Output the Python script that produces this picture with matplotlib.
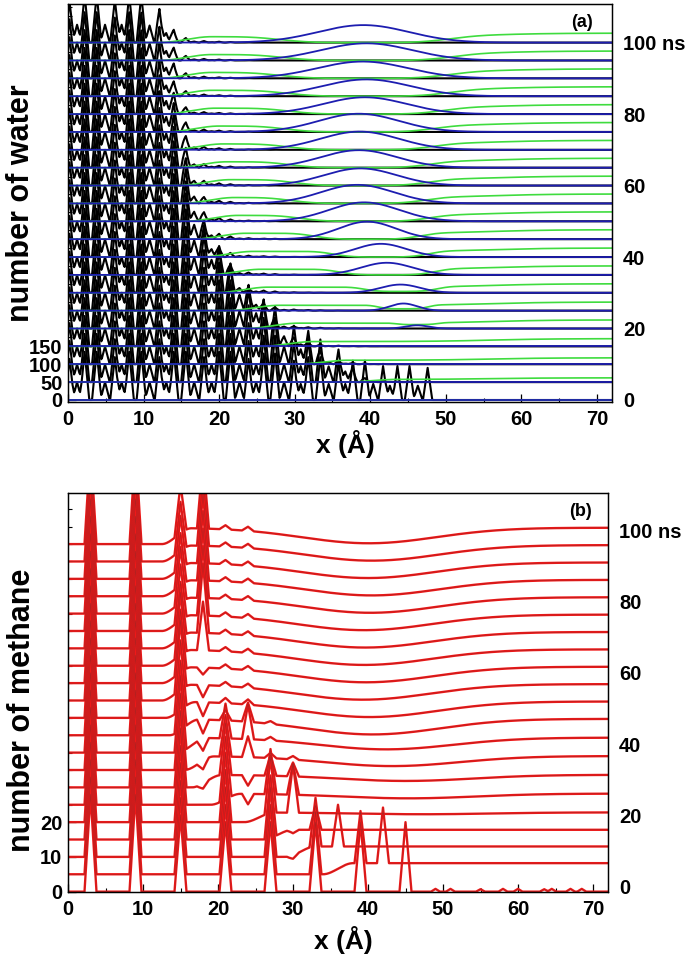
import numpy as np
import matplotlib.pyplot as plt

plt.rcParams['font.family'] = ['Liberation Sans', 'DejaVu Sans']
plt.rcParams['font.weight'] = 'bold'
plt.rcParams['axes.linewidth'] = 0.9

# simulation times (ns), one trace each
times = [0, 5, 10, 15, 20, 25, 30, 35, 40, 45, 50, 55, 60, 65, 70, 75, 80, 85, 90, 95, 100]

# ---- (a) water ----
# crystal water layer positions (A) and peak heights
lattice_x = [0.2, 1.2, 2.2, 3.8, 4.9, 6.2, 7.1, 8.1, 9.7, 10.8,
             12.1, 13.0, 14.0, 15.6, 16.7, 18.0, 19.0, 20.0, 21.5, 22.7,
             23.9, 24.9, 25.9, 27.4, 28.6, 29.9, 30.8, 31.8, 33.4, 34.5,
             35.8, 36.7, 37.7, 39.3, 40.4, 41.7, 42.6, 43.6, 45.2, 46.3, 47.6]
lattice_h = [115, 50, 135, 135, 50, 120, 50, 135, 135, 50,
             120, 50, 135, 135, 50, 120, 50, 135, 135, 50,
             115, 50, 130, 130, 50, 110, 45, 120, 120, 45,
             105, 45, 110, 110, 45, 95, 40, 95, 95, 40, 90]
# where the crystal ends in each trace, and leftover small peaks past it
xtal_edge = [48.3, 37.0, 32.5, 28.5, 26.0, 24.0, 21.5, 20.0, 18.5, 17.5, 16.5,
             16.0, 15.5, 15.0, 14.5, 14.0, 13.5, 13.0, 13.0, 12.8, 12.8]
xtal_resid = [0, 0.15, 0.18, 0.2, 0.2, 0.2, 0.2, 0.2, 0.2, 0.2, 0.2,
              0.2, 0.2, 0.2, 0.2, 0.2, 0.2, 0.2, 0.2, 0.2, 0.2]
# liquid water (green)
green_start = [72, 36.5, 30.0, 25.5, 23.5, 21.0, 19.5, 18.5, 17.5, 16.5, 15.5,
               15.0, 14.5, 14.0, 13.5, 13.0, 12.5, 12.0, 12.0, 12.0, 12.0]
green_level = [0, 10, 15, 18, 20, 20, 21, 21, 21, 22, 22,
               22, 22, 22, 22, 22, 22, 22, 22, 22, 22]
# blue bump
bulge_c = [40, 40, 40, 40, 46.2, 44.4, 44.0, 42.2, 41.4, 39.6, 39.2,
           38.3, 38.7, 38.5, 38.6, 38.5, 39.3, 39.5, 39.0, 39.5, 39.1]
bulge_h = [0, 0, 0, 0, 9, 20, 23, 34, 37, 49, 53,
           52, 48, 49, 51, 51, 47, 47, 47, 48, 49]
bulge_w = [1, 1, 1, 1, 1.5, 1.8, 2.6, 3.4, 3.4, 3.8, 4.6,
           4.8, 4.8, 5.0, 5.2, 5.3, 5.5, 5.8, 6.0, 6.0, 6.0]

# ---- (b) methane ----
ch4_x = [3, 9, 15, 18, 21, 24, 27, 30, 33, 36, 39, 42, 45]
ch4_h = [
    [28, 28, 22, 0, 20, 0, 20, 0, 20, 0, 20, 0, 20],      # 0
    [28, 28, 22, 0, 20, 0, 20, 0, 18, 0, 15, 16, 0],      # 5
    [28, 28, 22, 0, 20, 0, 20, -1, 14, 12, 0, 0, 0],      # 10
    [28, 28, 22, 0, 20, 0, 18, -1, 7, 0, 0, 0, 0],        # 15
    [28, 28, 22, 0, 20, 0, 16, 14, 0, 0, 0, 0, 0],        # 20
    [28, 28, 22, 0, 18, -3, 13, 9, 0, 0, 0, 0, 0],        # 25
    [28, 28, 22, -1.5, 15, -3, 6, 4, 0, 0, 0, 0, 0],      # 30
    [28, 28, 22, -2.5, 12, 6, 1.5, 1, 0, 0, 0, 0, 0],     # 35
    [28, 28, 22, -3.5, 10, 10, 1, 0, 0, 0, 0, 0, 0],      # 40
    [28, 28, 20, -4, 3, 5.5, 0.8, 0, 0, 0, 0, 0, 0],      # 45
    [28, 28, 20, -4, 1.5, 1.5, 0, 0, 0, 0, 0, 0, 0],      # 50
    [28, 28, 20, -3.5, 1.2, 1.2, 0, 0, 0, 0, 0, 0, 0],    # 55
    [28, 28, 18, -2, 1.2, 1.2, 0, 0, 0, 0, 0, 0, 0],      # 60
    [28, 28, 18, 14, 1.2, 1.2, 0, 0, 0, 0, 0, 0, 0],      # 65
    [28, 28, 16, 20, 1.2, 1.2, 0, 0, 0, 0, 0, 0, 0],      # 70
    [28, 28, 16, 20, 1.2, 1.2, 0, 0, 0, 0, 0, 0, 0],      # 75
    [28, 28, 16, 20, 1.2, 1.2, 0, 0, 0, 0, 0, 0, 0],      # 80
    [28, 28, 15, 20, 1.2, 1.2, 0, 0, 0, 0, 0, 0, 0],      # 85
    [28, 28, 15, 20, 1.2, 1.2, 0, 0, 0, 0, 0, 0, 0],      # 90
    [28, 28, 14, 20, 1.2, 1.2, 0, 0, 0, 0, 0, 0, 0],      # 95
    [28, 28, 14, 20, 1.2, 1.2, 0, 0, 0, 0, 0, 0, 0],      # 100
]
ch4_front = [72, 34, 29, 26, 23.5, 19, 16.5, 15.5, 14.5, 13.5, 13,
             12.5, 12.5, 12.5, 12.5, 12.5, 12.5, 12.5, 12.5, 12.5, 12.5]
ch4_level = [0, 3.2, 3.0, 2.8, 2.8, 3.2, 3.6, 4.0, 4.3, 4.7, 4.7,
             4.7, 4.7, 4.7, 4.7, 4.7, 4.7, 4.7, 4.7, 4.7, 4.7]
gas_x = [49, 51, 55, 58, 60, 63.5, 64.5, 67, 68.5]
gas_h = [0.8, 0.8, 0.7, 0.8, 0.8, 0.7, 0.8, 0.8, 0.8]

x = np.linspace(0, 72, 721)


def tri_peaks(pos, hts, half):
    y = np.zeros_like(x)
    for p, h in zip(pos, hts):
        y = y + h * np.clip(1 - np.abs(x - p) / half, 0, None)
    return y


def step(u):
    u = np.clip(u, 0, 1)
    return u * u * (3 - 2 * u)


black = 'black'
green = '#3fdc3f'
blue = '#1d1db0'
red = '#f01818'

fig = plt.figure(figsize=(6.85, 9.64), dpi=100)
ax1 = fig.add_axes([68 / 685, 1 - 402 / 964, 544 / 685, 398 / 964])
ax2 = fig.add_axes([68 / 685, 1 - 892 / 964, 540 / 685, 399 / 964])

# panel (a)
lattice = tri_peaks(lattice_x, lattice_h, 0.62)
for i, t in enumerate(times):
    base = t * 10
    sharp = 0.05 if t == 0 else 0.7
    env = 0.5 * (1 - np.tanh((x - xtal_edge[i]) / (2 * sharp)))
    tail = xtal_resid[i] * np.exp(-np.clip(x - xtal_edge[i], 0, None) / 3) * (1 - env)
    ax1.plot(x, base + lattice * (env + tail), color=black, lw=1.5, zorder=1)

    hole = 0
    if bulge_h[i] > 0:
        hole = min(1, bulge_h[i] / 30) * np.exp(-((x - bulge_c[i]) / (2 * bulge_w[i])) ** 4)
    side = 0.75 + 0.45 * 0.5 * (1 + np.tanh((x - 56) / 8))
    g = green_level[i] * step((x - green_start[i]) / 7) * side * (1 - hole)
    ax1.plot(x, base + g, color=green, lw=1.2, zorder=2)

    b = bulge_h[i] * np.exp(-0.5 * ((x - bulge_c[i]) / bulge_w[i]) ** 2)
    ax1.plot(x, base + b, color=blue, lw=1.3, zorder=3)

ax1.set_xlim(0, 72)
ax1.set_ylim(-5.6, 1108)
ax1.set_yticks([0, 50, 100, 150])
ax1.set_yticks(np.arange(175, 1101, 25), minor=True)
ax1.set_xlabel('x (Å)', fontsize=19, fontweight='bold')
ax1.set_ylabel('number of water', fontsize=22, fontweight='bold')
ax1.text(0.965, 0.975, '(a)', transform=ax1.transAxes, ha='right', va='top',
         fontsize=13, fontweight='bold')

# panel (b)
for i, t in enumerate(times):
    base = t
    dip = 0.95 * min(1, bulge_h[i] / 45)
    liquid = ch4_level[i] * step((x - ch4_front[i]) / 4) * \
        (1 - dip * np.exp(-0.5 * ((x - bulge_c[i] - 1) / 9) ** 2))
    y = base + liquid + tri_peaks(ch4_x, ch4_h[i], 0.8)
    if t == 0:
        y = y + tri_peaks(gas_x, gas_h, 0.6)
    ax2.plot(x, y, color=red, lw=1.7, zorder=2)
    ax2.plot(x, y, color='#6a2a2a', lw=0.45, alpha=0.45, zorder=3)

ax2.set_xlim(0, 72)
ax2.set_ylim(-0.1, 114.7)
ax2.set_yticks([0, 10, 20])
ax2.set_yticks(np.arange(25, 111, 5), minor=True)
ax2.set_xlabel('x (Å)', fontsize=19, fontweight='bold')
ax2.set_ylabel('number of methane', fontsize=22, fontweight='bold')
ax2.text(0.97, 0.975, '(b)', transform=ax2.transAxes, ha='right', va='top',
         fontsize=13, fontweight='bold')

for ax, lim in ((ax1, (-0.56, 110.8)), (ax2, (-1.5, 110.4))):
    ax.set_xticks(np.arange(0, 71, 10))
    ax.set_xticks(np.arange(5, 71, 10), minor=True)
    ax.tick_params(which='both', direction='in', labelsize=14.5, top=False)
    ax.tick_params(which='major', length=6, width=0.9)
    ax.tick_params(which='minor', length=3, width=0.8)
    ax.tick_params(axis='x', pad=6)
    ax.tick_params(axis='y', pad=4)
    rax = ax.twinx()
    rax.set_ylim(*lim)
    rax.set_yticks([0, 20, 40, 60, 80, 100])
    rax.set_yticklabels(['0', '20', '40', '60', '80', '100 ns'])
    rax.tick_params(length=0, labelsize=14.5, pad=8)

ax1.xaxis.set_label_coords(0.51, -0.07)
ax1.yaxis.set_label_coords(-0.058, 0.5)
ax2.xaxis.set_label_coords(0.51, -0.085)
ax2.yaxis.set_label_coords(-0.058, 0.455)

fig.savefig('out.png', dpi=100)
